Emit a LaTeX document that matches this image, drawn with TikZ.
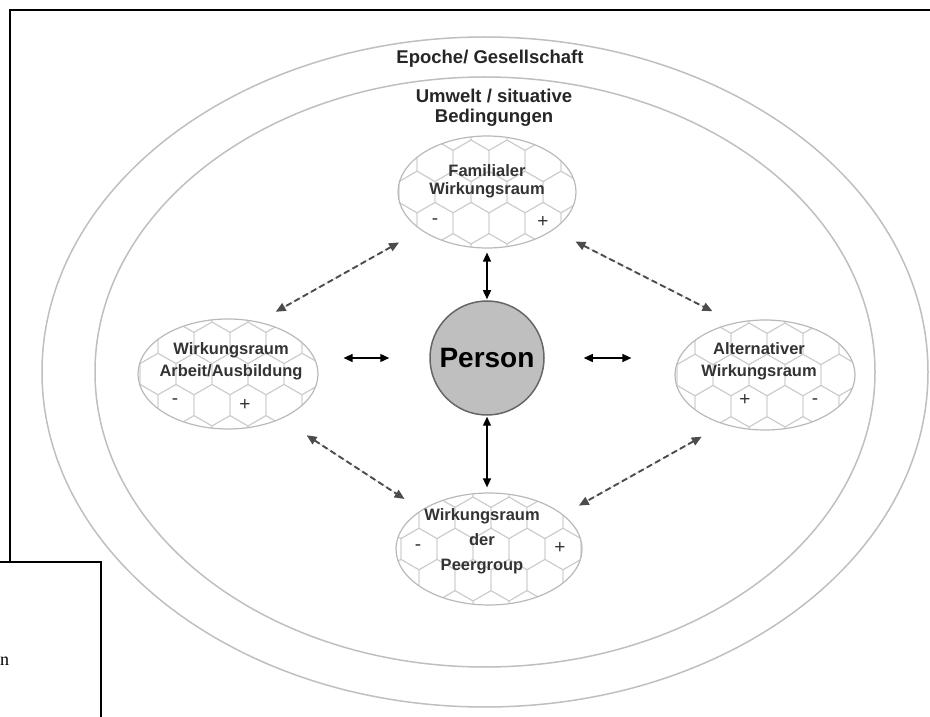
\documentclass[tikz,border=0pt]{standalone}
\usepackage{fontspec}
\setmainfont{Liberation Sans}
\newfontfamily\serifn{Liberation Serif}
\usetikzlibrary{arrows.meta, shapes.geometric}

% honeycomb cells inside one sphere: center x, center y, x radius, y radius
\newcommand{\honeycomb}[4]{%
  \begin{scope}
    \clip (#1,#2) ellipse [x radius=#3, y radius=#4];
    \foreach \row in {-2,...,2}{
      \foreach \col in {-3,...,3}{
        \pgfmathsetmacro{\hx}{#1+\col*36+2-mod(abs(\row),2)*18}
        \pgfmathsetmacro{\hy}{#2+\row*31.2}
        \draw[combline] (\hx,\hy) +(30:20.8) -- +(90:20.8) -- +(150:20.8)
          -- +(210:20.8) -- +(270:20.8) -- +(330:20.8) -- cycle;
      }}
  \end{scope}}

\tikzset{
  room/.style={ellipse, draw=gray!55, line width=1.2pt, minimum width=178pt,
    minimum height=112pt, inner sep=0pt},
  roomtext/.style={align=center, font=\fontsize{16.5}{18}\selectfont\bfseries, text=black!80},
  sign/.style={font=\fontsize{19}{19}\selectfont, text=black!80},
  combline/.style={draw=gray!40, line width=0.9pt},
  link/.style={{Triangle[length=9pt,width=8pt]}-{Triangle[length=9pt,width=8pt]},
    line width=1.4pt},
  dashlink/.style={{Triangle[length=10pt,width=8.5pt]}-{Triangle[length=10pt,width=8.5pt]},
    dash pattern=on 6pt off 3.5pt, line width=1.9pt, draw=black!70, fill=black!70},
  layer/.style={draw=gray!50, line width=1.5pt}
}

\begin{document}
\begin{tikzpicture}[x=1pt, y=1pt]
    \useasboundingbox (0,0) rectangle (930,716);

    % frame and the box below left
    \draw[line width=2pt] (9.5,155) -- (9.5,706) -- (932,706);
    \draw[line width=1.6pt] (-2,154) -- (101,154) -- (101,-2);
    \node[anchor=base west, inner sep=0pt, font=\serifn\fontsize{18}{18}\selectfont] (rest) at (0,51) {n};

    % society and environment
    \draw[layer] (485,344) ellipse [x radius=443, y radius=335];
    \draw[layer] (485,344) ellipse [x radius=390, y radius=295];
    \node[font=\fontsize{18.5}{19}\selectfont\bfseries, text=black!85] (epoche) at (490,657) {Epoche/ Gesellschaft};
    \node[align=center, font=\fontsize{18.5}{19.5}\selectfont\bfseries, text=black!85] (umwelt) at (494,608)
        {Umwelt / situative\\Bedingungen};

    % the four spheres
    \honeycomb{487}{524}{89}{56}
    \honeycomb{228}{342}{90}{55}
    \honeycomb{765}{341}{90}{55}
    \honeycomb{489}{167}{93}{56}
    \node[room] (fam) at (487,524) {};
    \node[room, minimum width=180pt, minimum height=110pt] (arbeit) at (228,342) {};
    \node[room, minimum width=180pt, minimum height=110pt] (alt) at (765,341) {};
    \node[room, minimum width=186pt] (peer) at (489,167) {};

    \node[roomtext] (famtext) at (487,535) {Familialer\\Wirkungsraum};
    \node[roomtext, font=\fontsize{16.5}{22}\selectfont\bfseries] (arbeittext) at (231,355) {Wirkungsraum\\Arbeit/Ausbildung};
    \node[roomtext, font=\fontsize{16.5}{22}\selectfont\bfseries] (alttext) at (759,355) {Alternativer\\Wirkungsraum};
    \node[roomtext, font=\fontsize{16.5}{25}\selectfont\bfseries] (peertext) at (482,175) {Wirkungsraum\\der\\Peergroup};

    \node[sign] (fammin) at (435,494) {-};
    \node[sign] (famplus) at (543,494) {+};
    \node[sign] (arbeitmin) at (175,314) {-};
    \node[sign] (arbeitplus) at (245,311) {+};
    \node[sign] (altplus) at (745,316) {+};
    \node[sign] (altmin) at (815,314) {-};
    \node[sign] (peermin) at (418,168) {-};
    \node[sign] (peerplus) at (560,168) {+};

    % person
    \node[circle, minimum size=114pt, inner sep=0pt, fill=gray!50, draw=black!60, line width=1.5pt,
        font=\fontsize{28}{28}\selectfont\bfseries] (person) at (487,358) {Person};

    % links
    \draw[link, shorten <=1pt, shorten >=4pt] (person.north) -- (person.north |- fam.south);
    \draw[link, shorten <=1pt, shorten >=5pt] (person.south) -- (person.south |- peer.north);
    \draw[link, shorten <=40pt, shorten >=25pt] (person.west) -- (person.west -| arbeit.east);
    \draw[link, shorten <=39pt, shorten >=43pt] (person.east) -- (person.east -| alt.west);

    \draw[dashlink, shorten <=25pt, shorten >=20pt] (fam.210) -- (arbeit.60);
    \draw[dashlink, shorten <=25pt, shorten >=25pt] (fam.330) -- (alt.120);
    \draw[dashlink, shorten <=30pt, shorten >=20pt] (arbeit.320) -- (peer.150);
    \draw[dashlink, shorten <=25pt, shorten >=18pt] (alt.230) -- (peer.25);
\end{tikzpicture}
\end{document}
